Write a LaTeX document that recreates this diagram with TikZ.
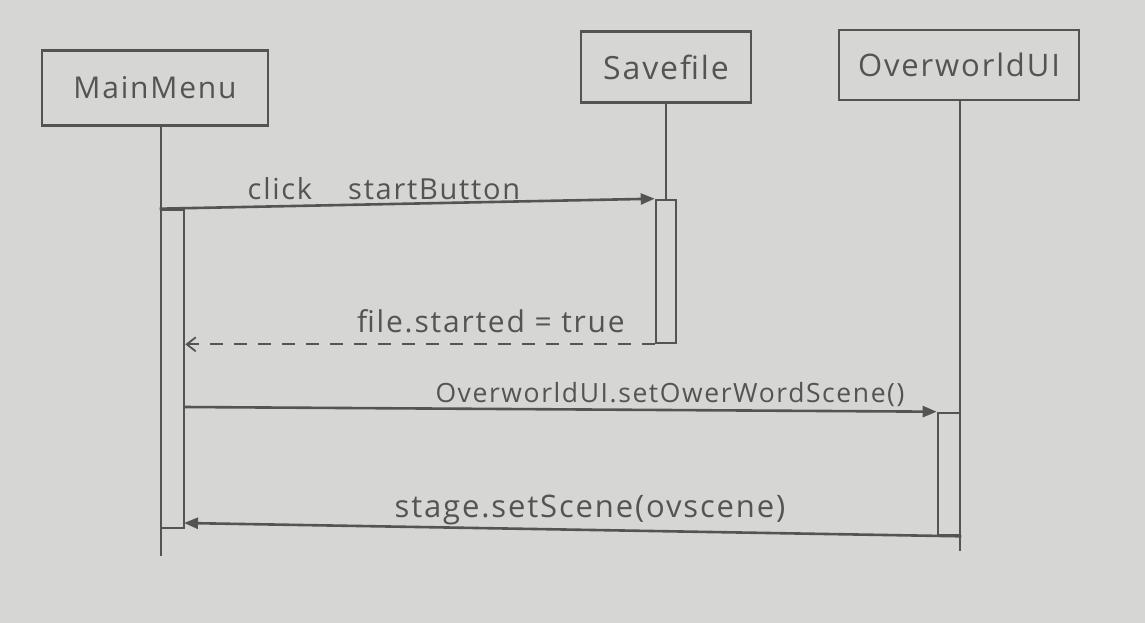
\documentclass[tikz,border=0pt]{standalone}
\usepackage{fontspec}
\setmainfont{Open Sans}[LetterSpace=6]
\usetikzlibrary{arrows.meta}
\definecolor{paper}{RGB}{214,214,212}
\definecolor{pencil}{RGB}{84,84,84}
\begin{document}
\begin{tikzpicture}[x=1pt,y=-1pt,
  pline/.style={draw=pencil, line width=2.6pt},
  actor/.style={pline, rectangle, inner sep=0pt, text=pencil, font=\fontsize{30}{34}\selectfont},
  actbar/.style={pline, rectangle, inner sep=0pt, minimum width=22pt},
  lifeline/.style={pline, line width=2.4pt},
  msg/.style={pline, -{Triangle[length=14pt,width=11pt]}},
  ret/.style={pline, line width=1.8pt, dash pattern=on 13pt off 11pt, -{Straight Barb[length=9pt,width=14pt]}},
  lbl/.style={text=pencil, font=\fontsize{29}{32}\selectfont, inner sep=0pt, anchor=base}]
\fill[paper] (0,0) rectangle (1145,623);
\useasboundingbox (0,0) rectangle (1145,623);

% actors
\node[actor, minimum width=226pt, minimum height=75pt] (mm) at (155,88) {MainMenu};
\node[actor, minimum width=170pt, minimum height=71pt, font=\fontsize{32}{36}\selectfont] (sf) at (666,67) {Savefile};
\node[actor, minimum width=240pt, minimum height=70pt, font=\fontsize{31}{35}\selectfont] (ov) at (959,65) {OverworldUI};

% activation bars
\node[actbar, minimum height=318pt, minimum width=23pt] (mmbar) at (172.5,369) {};
\node[actbar, minimum height=143pt, minimum width=20pt] (sfbar) at (666,271.5) {};
\node[actbar, minimum height=122pt] (ovbar) at (949,474) {};

% lifeline ends
\coordinate (mmend) at (161,556);
\coordinate (ovend) at (960,551);
\coordinate (m3s) at (184,407);
\coordinate (m4e) at (184,523);

% lifelines
\draw[lifeline] (mm.south -| mmend) -- (mmend);
\draw[lifeline] (sf.south) -- (sfbar.north);
\draw[lifeline] (ov.south -| ovend) -- (ovend);

% messages
\draw[msg] (mmbar.north west) -- (sfbar.north west);
\draw[ret] (sfbar.south west) -- (mmbar.east |- sfbar.south west);
\draw[msg] (m3s) -- (ovbar.north west);
\draw[msg] (ovbar.south east) -- (m4e);

% labels
\node[lbl] (l1) at (384,199) {click\hspace{36pt}startButton};
\node[lbl, font=\fontsize{30}{33}\selectfont] (l2) at (491,332) {file.started = true};
\node[lbl, font=\fontsize{26.5}{29}\selectfont] (l3) at (670,402) {OverworldUI.setOwerWordScene()};
\node[lbl, font=\fontsize{31}{34}\selectfont] (l4) at (590,517) {stage.setScene(ovscene)};
\end{tikzpicture}
\end{document}
